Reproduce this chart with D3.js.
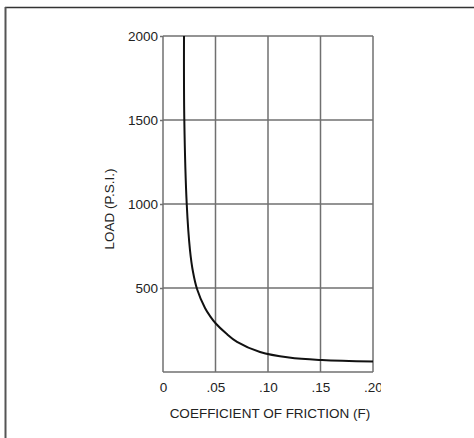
<!DOCTYPE html>
<html>
<head>
<meta charset="utf-8">
<script src="https://cdn.jsdelivr.net/npm/d3@7"></script>
<style>
  body { margin: 0; background: #fff; }
  svg { display: block; font-family: "Liberation Sans", Arial, sans-serif; }
  .tick text { font-size: 13.5px; fill: #222; }
  .grid { stroke: #707070; stroke-width: 1.5; }
</style>
</head>
<body>
<svg id="chart" width="474" height="438"></svg>
<script>
// curve
const friction = [0.0200, 0.0203, 0.0226, 0.0257, 0.0286, 0.0324, 0.0400, 0.0448, 0.0505, 0.0600, 0.0705, 0.0924, 0.1200, 0.1514, 0.2000];
const load     = [2000,   1500,   1000,   726,    595,    494,    381,    333,    287,    230,    179,    119,    86,     71,     62];

const xTicks = [0, 0.05, 0.10, 0.15, 0.20];
const xTickLabels = ["0", ".05", ".10", ".15", ".20"];
const yTicks = [500, 1000, 1500, 2000];
const yTickLabels = ["500", "1000", "1500", "2000"];

const svg = d3.select("#chart");
const plot = {left: 163, right: 373, top: 36, bottom: 372};

const x = d3.scaleLinear().domain([0, 0.2]).range([plot.left, plot.right]);
const y = d3.scaleLinear().domain([0, 2000]).range([plot.bottom, plot.top]);

// page frame (top and left edge only)
svg.append("line").attr("x1", 5).attr("y1", 7.5).attr("x2", 474).attr("y2", 7.5)
    .style("stroke", "#333").style("stroke-width", 1.5);
svg.append("line").attr("x1", 5.5).attr("y1", 7).attr("x2", 5.5).attr("y2", 438)
    .style("stroke", "#555").style("stroke-width", 2);

// clip so the last tick label is cut like in the scan
svg.append("clipPath").attr("id", "clip")
    .append("rect").attr("x", 0).attr("y", 0).attr("width", 381).attr("height", 438);
const g = svg.append("g").attr("clip-path", "url(#clip)");

// grid
g.selectAll("line.vgrid").data(xTicks).enter()
    .append("line").attr("class", "grid vgrid")
    .attr("x1", d => x(d)).attr("x2", d => x(d))
    .attr("y1", plot.top).attr("y2", plot.bottom);
g.selectAll("line.hgrid").data([0].concat(yTicks)).enter()
    .append("line").attr("class", "grid hgrid")
    .attr("x1", plot.left).attr("x2", plot.right)
    .attr("y1", d => y(d)).attr("y2", d => y(d));

// axes
const yAxis = g.append("g").attr("transform", `translate(${plot.left},0)`)
    .call(d3.axisLeft(y).tickValues(yTicks).tickSize(3).tickPadding(2)
        .tickFormat((d, i) => yTickLabels[i]));
const xAxis = g.append("g").attr("transform", `translate(0,${plot.bottom})`)
    .call(d3.axisBottom(x).tickValues(xTicks).tickSize(0).tickPadding(10)
        .tickFormat((d, i) => xTickLabels[i]));
[yAxis, xAxis].forEach(a => {
    a.select(".domain").remove();
    a.selectAll(".tick line").style("stroke", "#707070").style("stroke-width", 1.5);
});

// curve
g.append("path")
    .datum(friction.map((f, i) => [f, load[i]]))
    .attr("d", d3.line().x(d => x(d[0])).y(d => y(d[1])).curve(d3.curveCatmullRom.alpha(0.5)))
    .style("fill", "none").style("stroke", "#111").style("stroke-width", 2);

// axis titles
svg.append("text").attr("x", 270).attr("y", 418).attr("text-anchor", "middle")
    .style("font-size", "13.5px").style("fill", "#222")
    .text("COEFFICIENT OF FRICTION (F)");
svg.append("text").attr("transform", "translate(114,209) rotate(-90)")
    .attr("text-anchor", "middle")
    .style("font-size", "13.5px").style("fill", "#222")
    .text("LOAD (P.S.I.)");
</script>
</body>
</html>
